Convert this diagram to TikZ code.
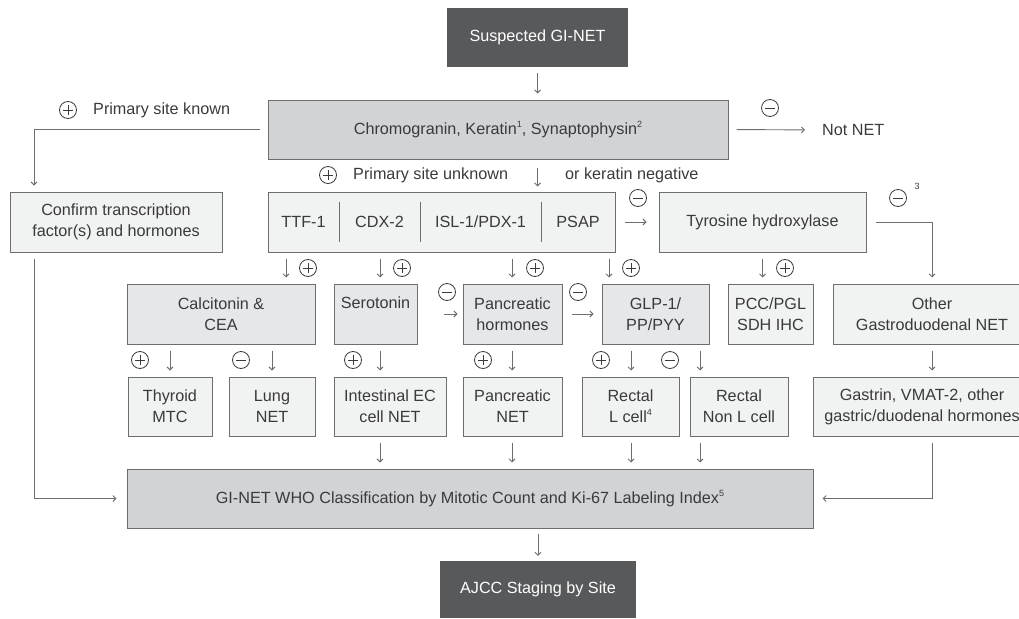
\documentclass[tikz,border=0pt]{standalone}
\usepackage{fontspec}
\setmainfont{Liberation Sans}
\usetikzlibrary{arrows.meta}
\definecolor{dark}{HTML}{58595B}
\definecolor{midg}{HTML}{D1D3D4}
\definecolor{lightg}{HTML}{E6E7E8}
\definecolor{paleg}{HTML}{F1F2F2}
\definecolor{linec}{HTML}{6D6E71}
\definecolor{txt}{HTML}{3A3A3C}
\newcommand{\fn}[1]{\raisebox{0.45em}{\fontsize{9}{10}\selectfont#1}}

\begin{document}
\begin{tikzpicture}[x=1pt,y=-1pt,
  font=\fontsize{16.2}{21}\selectfont, text=txt,
  box/.style={draw=linec, line width=1pt, fill=paleg, align=center, inner sep=0pt},
  head/.style={fill=dark, text=white, inner sep=0pt},
  arr/.style={draw=linec, line width=0.9pt, -{Straight Barb[length=3pt,width=6pt]}, shorten <=6pt, shorten >=6pt},
  sgn/.style={circle, draw=txt, line width=0.8pt, minimum size=17pt, inner sep=0pt},
  plussign/.style={sgn, path picture={\draw[txt, line width=0.8pt]
    ([xshift=-5pt]path picture bounding box.center) -- ([xshift=5pt]path picture bounding box.center)
    ([yshift=-5pt]path picture bounding box.center) -- ([yshift=5pt]path picture bounding box.center);}},
  minussign/.style={sgn, path picture={\draw[txt, line width=0.8pt]
    ([xshift=-5pt]path picture bounding box.center) -- ([xshift=5pt]path picture bounding box.center);}},
  lbl/.style={anchor=west, inner sep=0pt}]
\useasboundingbox (0,0) rectangle (1019,618);
\clip (0,0) rectangle (1019,618);

\node[head, minimum width=181pt, minimum height=59pt] (sus) at (537.5,37.5) {Suspected GI-NET};
\node[box, fill=midg, minimum width=460pt, minimum height=59pt] (chromo) at (498,129.5) {Chromogranin, Keratin\fn{1}, Synaptophysin\fn{2}};
\node[lbl] (known) at (93,110) {Primary site known};
\node[lbl] (notnet) at (822,130) {Not NET};
\node[lbl] (unknown) at (353,175) {Primary site unknown};
\node[lbl] (kneg) at (565,175) {or keratin negative};

\node[box, minimum width=212pt, minimum height=60pt] (conf) at (116,222) {Confirm transcription\\factor(s) and hormones};
\node[box, minimum width=347pt, minimum height=60pt] (ttf) at (441.5,222) {};
\foreach \n/\x/\t in {ttf1/303.5/TTF-1, cdx/379.5/CDX-2, isl/480.5/{ISL-1/PDX-1}, psap/578/PSAP}
  \node (\n) at (\x,222) {\t};
\foreach \x in {339,420,541} \draw[linec, line width=1pt] (\x,202) -- (\x,242);
\node[box, minimum width=207pt, minimum height=60pt] (tyro) at (762.5,222) {Tyrosine hydroxylase};

\node[box, fill=lightg, minimum width=188pt, minimum height=60pt] (calc) at (221,314) {Calcitonin \&\\CEA};
\node[box, fill=lightg, minimum width=83pt, minimum height=60pt, text height=11pt, text depth=23pt] (sero) at (375.5,314) {Serotonin};
\node[box, fill=lightg, minimum width=99pt, minimum height=60pt] (panh) at (512.5,314) {Pancreatic\\hormones};
\node[box, fill=lightg, minimum width=107pt, minimum height=60pt] (glp) at (655.5,314) {GLP-1/\\PP/PYY};
\node[box, minimum width=85pt, minimum height=60pt] (pcc) at (770.5,314) {PCC/PGL\\SDH IHC};
\node[box, minimum width=198pt, minimum height=60pt] (othr) at (932,314) {Other\\Gastroduodenal NET};

\node[box, minimum width=84pt, minimum height=59pt] (thy) at (170,406.5) {Thyroid\\MTC};
\node[box, minimum width=86pt, minimum height=59pt] (lung) at (272,406.5) {Lung\\NET};
\node[box, minimum width=112pt, minimum height=59pt] (intest) at (390,406.5) {Intestinal EC\\cell NET};
\node[box, minimum width=99pt, minimum height=59pt] (pannet) at (512.5,406.5) {Pancreatic\\NET};
\node[box, minimum width=97pt, minimum height=59pt] (rectl) at (630.5,406.5) {Rectal\\L cell\fn{4}};
\node[box, minimum width=98pt, minimum height=59pt] (rectn) at (739,406.5) {Rectal\\Non L cell};
\node[box, minimum width=218pt, minimum height=59pt] (gast) at (922,406.5) {Gastrin, VMAT-2, other\\gastric/duodenal hormones};

\node[box, fill=midg, minimum width=686pt, minimum height=59pt] (who) at (470,498.5) {GI-NET WHO Classification by Mitotic Count and Ki-67 Labeling Index\fn{5}};
\node[head, minimum width=196pt, minimum height=57pt] (ajcc) at (538,589.5) {AJCC Staging by Site};

\foreach \n/\x/\y in {sk/68/110, su/328/175, s1/308/268, s2/402/268, s3/535/268, s4/631/268, s5/785/268,
  s6/140/360, s7/353/360, s8/483/360, s9/601/360}
  \node[plussign] (\n) at (\x,\y) {};
\foreach \n/\x/\y in {n1/770/108, n2/638/198, n3/898/198, n4/447/292, n5/578/292, n6/241/360, n7/670/360}
  \node[minussign] (\n) at (\x,\y) {};
\node[font=\fontsize{9}{10}\selectfont, inner sep=0pt] (fn3) at (917,186) {3};

\draw[arr] (sus.south) -- (sus.south |- chromo.north);
\draw[arr, shorten <=8pt] (chromo.west) -| (conf.north -| 34,0);
\draw[arr, shorten <=8pt, shorten >=17pt] (chromo.east) -- (notnet.west);
\draw[arr, shorten <=8pt, shorten >=5pt] (chromo.south -| sus.south) -- (ttf.north -| sus.south);
\draw[arr, shorten <=9pt, shorten >=12pt] (ttf.east) -- (tyro.west);
\draw[arr, shorten <=9pt] (tyro.east) -| (othr.north);
\foreach \b/\x in {calc/286, sero/380, panh/512, glp/609}
  \draw[arr] (ttf.south -| \x,0) -- (\b.north -| \x,0);
\draw[arr] (tyro.south) -- (tyro.south |- pcc.north);
\draw[arr, shorten <=26pt, shorten >=5pt] (sero.east) -- (panh.west);
\draw[arr, shorten <=9pt, shorten >=8pt] (panh.east) -- (glp.west);
\foreach \a/\b/\x in {calc/thy/170, calc/lung/272, sero/intest/380, panh/pannet/512, glp/rectl/631, glp/rectn/700, othr/gast/932}
  \draw[arr] (\a.south -| \x,0) -- (\b.north -| \x,0);
\foreach \a/\x in {intest/380, pannet/512, rectl/631, rectn/700}
  \draw[arr] (\a.south -| \x,0) -- (who.north -| \x,0);
\draw[arr, shorten >=10pt] (conf.south -| 34,0) |- (who.west);
\draw[arr, shorten >=9pt] (gast.south -| 932,0) |- (who.east);
\draw[arr, shorten <=5pt, shorten >=5pt] (who.south -| ajcc.north) -- (ajcc.north);
\end{tikzpicture}
\end{document}
